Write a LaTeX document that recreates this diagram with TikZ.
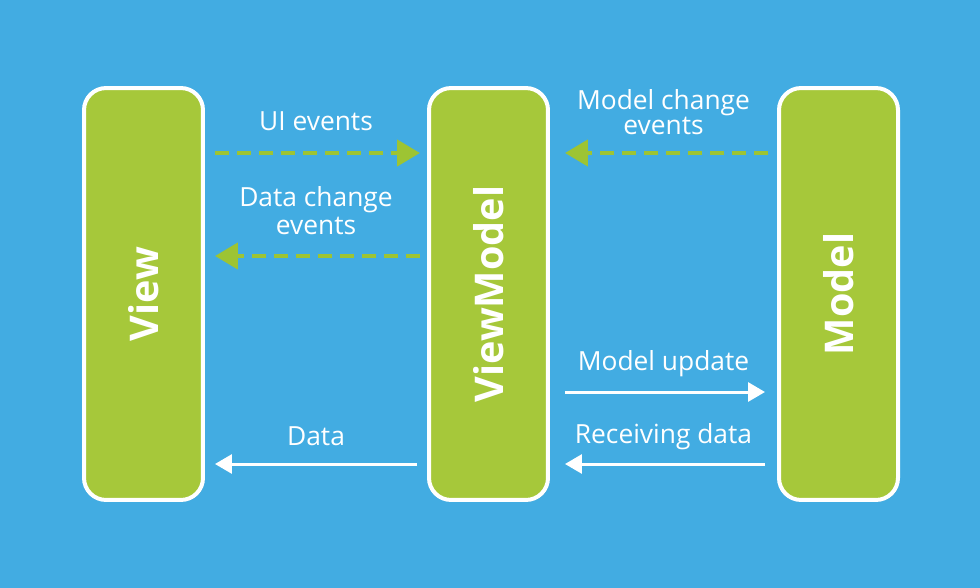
\documentclass[tikz,border=0pt]{standalone}
\usepackage{fontspec}
\setmainfont{Open Sans}
\usepackage{xcolor}
\usetikzlibrary{arrows.meta, positioning, shadows}
\definecolor{bgblue}{HTML}{42ACE2}
\definecolor{mvgreen}{HTML}{A6C83A}
\definecolor{dashgreen}{HTML}{9DC433}

\begin{document}
\begin{tikzpicture}[
    x=0.02cm, y=-0.02cm,
    layer/.style={rectangle, draw=white, line width=0.08cm, fill=mvgreen, rounded corners=0.44cm, minimum width=2.38cm, minimum height=8.24cm, inner sep=0pt, text=white, font=\fontsize{22.5}{26}\selectfont\bfseries, drop shadow={shadow xshift=0.03cm, shadow yshift=-0.03cm, opacity=0.25}},
    evtarr/.style={-{Triangle[length=0.46cm, width=0.52cm]}, dashgreen, line width=0.09cm, dash pattern=on 0.28cm off 0.16cm},
    dataarr/.style={-{Triangle[length=0.34cm, width=0.38cm]}, white, line width=0.06cm},
    evt/.style={text=white, font=\fontsize{15}{17}\selectfont, align=center}
]
% background
\fill[bgblue] (0,0) rectangle (980,588);

% layers
\node[layer] (view) at (143.5,294) {\rotatebox{90}{View}};
\node[layer] (vm) at (488.5,294) {\rotatebox{90}{ViewModel}};
\node[layer] (model) at (838.5,294) {\rotatebox{90}{Model}};

% rows of the connectors
\coordinate (r1) at (0,153);
\coordinate (r2) at (0,256);
\coordinate (r3) at (0,392);
\coordinate (r4) at (0,464);

% events
\draw[evtarr, shorten <=0.2cm, shorten >=0.14cm] (view.east |- r1) -- node[evt, midway, yshift=0.64cm] (uilbl) {UI events} (vm.west |- r1);
\draw[evtarr, shorten <=0.14cm, shorten >=0.2cm] (vm.west |- r2) -- node[evt, midway, yshift=0.9cm, font=\fontsize{15}{16}\selectfont] (dclbl) {Data change\\events} (view.east |- r2);
\draw[evtarr, shorten <=0.18cm, shorten >=0.3cm] (model.west |- r1) -- node[evt, midway, yshift=0.82cm, font=\fontsize{15}{11.5}\selectfont] (mclbl) {Model change\\events} (vm.east |- r1);

% data
\draw[dataarr, shorten <=0.3cm, shorten >=0.24cm] (vm.east |- r3) -- node[evt, midway, yshift=0.56cm] (mulbl) {Model update} (model.west |- r3);
\draw[dataarr, shorten <=0.24cm, shorten >=0.3cm] (model.west |- r4) -- node[evt, midway, yshift=0.54cm] (rdlbl) {Receiving data} (vm.east |- r4);
\draw[dataarr, shorten <=0.2cm, shorten >=0.2cm] (vm.west |- r4) -- node[evt, midway, yshift=0.56cm] (dlbl) {Data} (view.east |- r4);
\end{tikzpicture}
\end{document}
